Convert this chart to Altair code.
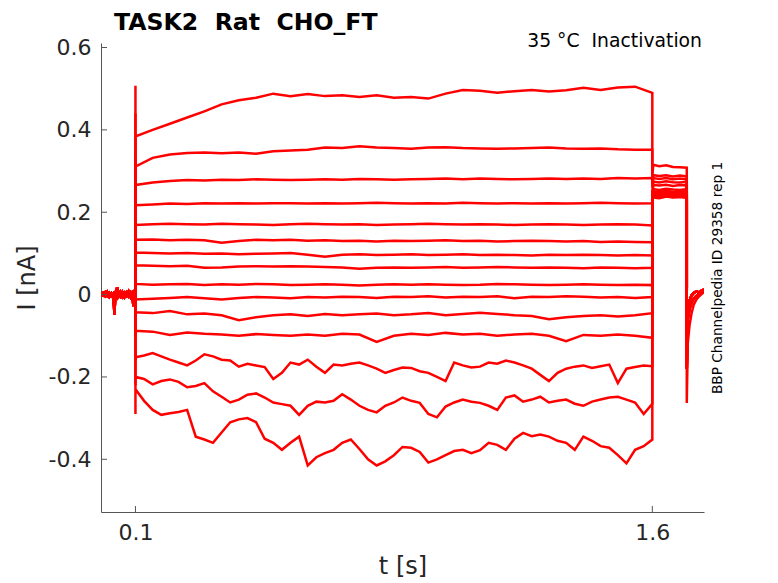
import altair as alt
import pandas as pd

# ---------------- data ----------------
X_TICKS = [0.1, 1.6]
Y_TICKS = [-0.4, -0.2, 0.0, 0.2, 0.4, 0.6]

# holding period before the step (two overlapping noise variants)
PRE_T = [0.000, 0.006, 0.012, 0.018, 0.024, 0.030, 0.036, 0.039, 0.041, 0.044, 0.047,
         0.050, 0.056, 0.062, 0.068, 0.074, 0.080, 0.086, 0.091, 0.094, 0.097, 0.100]
PRE_I_A = [0.003, -0.002, 0.005, -0.003, 0.004, -0.004, 0.002, -0.048, -0.010, 0.003, 0.018,
           -0.004, 0.006, -0.005, 0.004, -0.003, 0.007, -0.006, 0.002, -0.028, -0.004, 0.000]
PRE_I_B = [-0.004, 0.004, -0.003, 0.006, -0.005, 0.003, -0.006, -0.030, 0.004, -0.006, 0.008,
           0.005, -0.004, 0.006, -0.006, 0.005, -0.004, 0.004, -0.008, -0.012, 0.003, 0.000]

# capacitive spike at step onset (per trace)
SPIKE_ON = [0.507, 0.44, 0.38, 0.33, 0.28, 0.24, 0.20, 0.16, 0.12, 0.06,
            -0.04, -0.10, -0.16, -0.22, -0.29]

# step period, traces 1-12 sampled every 0.05 s
T_COARSE = [0.10, 0.15, 0.20, 0.25, 0.30, 0.35, 0.40, 0.45, 0.50, 0.55, 0.60, 0.65, 0.70,
            0.75, 0.80, 0.85, 0.90, 0.95, 1.00, 1.05, 1.10, 1.15, 1.20, 1.25, 1.30, 1.35,
            1.40, 1.45, 1.50, 1.55, 1.60]
STEP_1 = [0.384, 0.400, 0.415, 0.430, 0.445, 0.462, 0.472, 0.478, 0.488, 0.482, 0.487,
          0.482, 0.484, 0.480, 0.484, 0.478, 0.480, 0.476, 0.488, 0.497, 0.495, 0.490,
          0.494, 0.497, 0.493, 0.496, 0.502, 0.497, 0.503, 0.505, 0.490]
STEP_2 = [0.311, 0.332, 0.340, 0.344, 0.345, 0.343, 0.345, 0.342, 0.348, 0.350, 0.352,
          0.357, 0.356, 0.360, 0.357, 0.356, 0.354, 0.357, 0.358, 0.356, 0.355, 0.354,
          0.355, 0.356, 0.357, 0.355, 0.354, 0.355, 0.353, 0.352, 0.352]
STEP_3 = [0.266, 0.272, 0.276, 0.278, 0.277, 0.279, 0.278, 0.280, 0.279, 0.278, 0.279,
          0.280, 0.279, 0.281, 0.280, 0.279, 0.280, 0.281, 0.282, 0.280, 0.282, 0.281,
          0.280, 0.281, 0.282, 0.281, 0.282, 0.281, 0.283, 0.282, 0.283]
STEP_4 = [0.217, 0.219, 0.221, 0.220, 0.222, 0.221, 0.222, 0.221, 0.222, 0.222, 0.221,
          0.222, 0.221, 0.222, 0.223, 0.222, 0.221, 0.222, 0.221, 0.223, 0.222, 0.221,
          0.222, 0.221, 0.222, 0.221, 0.222, 0.223, 0.222, 0.221, 0.222]
STEP_5 = [0.169, 0.171, 0.172, 0.171, 0.170, 0.172, 0.171, 0.170, 0.169, 0.171, 0.172,
          0.171, 0.170, 0.171, 0.169, 0.170, 0.171, 0.172, 0.171, 0.170, 0.171, 0.170,
          0.169, 0.170, 0.171, 0.170, 0.169, 0.170, 0.171, 0.170, 0.168]
STEP_6 = [0.133, 0.134, 0.132, 0.133, 0.132, 0.126, 0.130, 0.133, 0.132, 0.133, 0.131,
          0.132, 0.130, 0.131, 0.129, 0.131, 0.130, 0.131, 0.132, 0.130, 0.131, 0.129,
          0.130, 0.131, 0.130, 0.129, 0.130, 0.128, 0.129, 0.128, 0.127]
STEP_7 = [0.102, 0.101, 0.100, 0.101, 0.099, 0.100, 0.098, 0.099, 0.100, 0.101, 0.097,
          0.092, 0.097, 0.098, 0.096, 0.097, 0.098, 0.096, 0.097, 0.098, 0.096, 0.097,
          0.096, 0.095, 0.097, 0.096, 0.097, 0.096, 0.095, 0.096, 0.095]
STEP_8 = [0.071, 0.070, 0.069, 0.070, 0.065, 0.066, 0.068, 0.069, 0.068, 0.069, 0.068,
          0.067, 0.066, 0.063, 0.065, 0.066, 0.065, 0.066, 0.067, 0.065, 0.066, 0.067,
          0.066, 0.065, 0.066, 0.065, 0.064, 0.066, 0.065, 0.064, 0.065]
STEP_9 = [0.026, 0.024, 0.025, 0.026, 0.023, 0.025, 0.024, 0.026, 0.025, 0.023, 0.024,
          0.025, 0.024, 0.022, 0.024, 0.025, 0.024, 0.025, 0.024, 0.023, 0.024, 0.026,
          0.025, 0.024, 0.023, 0.024, 0.025, 0.024, 0.023, 0.024, 0.023]
STEP_10 = [-0.012, -0.010, -0.008, -0.006, -0.009, -0.012, -0.008, -0.006, -0.007, -0.009,
           -0.006, -0.007, -0.005, -0.006, -0.008, -0.005, -0.006, -0.004, -0.007, -0.005,
           -0.006, -0.004, -0.009, -0.005, -0.006, -0.004, -0.005, -0.007, -0.006, -0.008,
           -0.006]
STEP_11 = [-0.043, -0.045, -0.040, -0.048, -0.046, -0.050, -0.062, -0.055, -0.050, -0.048,
           -0.052, -0.047, -0.050, -0.048, -0.046, -0.050, -0.048, -0.045, -0.050, -0.047,
           -0.044, -0.047, -0.050, -0.052, -0.060, -0.055, -0.052, -0.050, -0.053, -0.050,
           -0.045]
STEP_12 = [-0.088, -0.090, -0.098, -0.092, -0.095, -0.097, -0.100, -0.096, -0.098, -0.100,
           -0.097, -0.100, -0.095, -0.097, -0.115, -0.100, -0.095, -0.098, -0.093, -0.097,
           -0.095, -0.100, -0.097, -0.095, -0.100, -0.113, -0.098, -0.100, -0.097, -0.100,
           -0.105]

# step period, noisy traces 13-15 sampled every 0.025 s
T_FINE = [0.100, 0.125, 0.150, 0.175, 0.200, 0.225, 0.250, 0.275, 0.300, 0.325, 0.350,
          0.375, 0.400, 0.425, 0.450, 0.475, 0.500, 0.525, 0.550, 0.575, 0.600, 0.625,
          0.650, 0.675, 0.700, 0.725, 0.750, 0.775, 0.800, 0.825, 0.850, 0.875, 0.900,
          0.925, 0.950, 0.975, 1.000, 1.025, 1.050, 1.075, 1.100, 1.125, 1.150, 1.175,
          1.200, 1.225, 1.250, 1.275, 1.300, 1.325, 1.350, 1.375, 1.400, 1.425, 1.450,
          1.475, 1.500, 1.525, 1.550, 1.575, 1.600]
STEP_13 = [-0.152, -0.148, -0.142, -0.150, -0.158, -0.165, -0.172, -0.160, -0.145, -0.150,
           -0.158, -0.160, -0.175, -0.168, -0.172, -0.176, -0.205, -0.190, -0.165, -0.170,
           -0.158, -0.175, -0.190, -0.170, -0.172, -0.168, -0.165, -0.172, -0.180, -0.190,
           -0.183, -0.177, -0.178, -0.186, -0.190, -0.200, -0.210, -0.165, -0.172, -0.177,
           -0.175, -0.165, -0.168, -0.160, -0.165, -0.172, -0.180, -0.195, -0.210, -0.190,
           -0.180, -0.175, -0.172, -0.178, -0.174, -0.170, -0.215, -0.180, -0.176, -0.172,
           -0.174]
STEP_14 = [-0.200, -0.205, -0.218, -0.210, -0.206, -0.212, -0.225, -0.222, -0.215, -0.235,
           -0.248, -0.262, -0.255, -0.243, -0.240, -0.250, -0.262, -0.266, -0.270, -0.292,
           -0.270, -0.260, -0.262, -0.258, -0.242, -0.255, -0.270, -0.280, -0.286, -0.270,
           -0.262, -0.250, -0.258, -0.263, -0.290, -0.298, -0.272, -0.262, -0.255, -0.260,
           -0.263, -0.270, -0.280, -0.250, -0.245, -0.260, -0.255, -0.248, -0.262, -0.258,
           -0.255, -0.265, -0.270, -0.260, -0.255, -0.250, -0.248, -0.255, -0.262, -0.290,
           -0.265]
STEP_15 = [-0.230, -0.258, -0.280, -0.292, -0.288, -0.285, -0.280, -0.345, -0.352, -0.360,
           -0.335, -0.310, -0.303, -0.300, -0.310, -0.350, -0.360, -0.377, -0.360, -0.345,
           -0.415, -0.395, -0.385, -0.377, -0.360, -0.352, -0.375, -0.400, -0.415, -0.405,
           -0.390, -0.370, -0.372, -0.382, -0.408, -0.400, -0.390, -0.380, -0.377, -0.385,
           -0.378, -0.360, -0.365, -0.377, -0.350, -0.336, -0.344, -0.340, -0.345, -0.355,
           -0.360, -0.377, -0.345, -0.355, -0.368, -0.372, -0.390, -0.410, -0.377, -0.368,
           -0.352]

# test pulse (tail) 1.6 - 1.7 s
TAIL_T = [1.600, 1.603, 1.620, 1.640, 1.660, 1.680, 1.700]
TAIL_I = [
    [0.290, 0.315, 0.312, 0.314, 0.310, 0.309, 0.308],
    [0.270, 0.290, 0.288, 0.290, 0.287, 0.289, 0.287],
    [0.260, 0.283, 0.281, 0.283, 0.280, 0.282, 0.280],
    [0.250, 0.274, 0.272, 0.275, 0.273, 0.272, 0.274],
    [0.240, 0.266, 0.265, 0.267, 0.264, 0.266, 0.265],
    [0.230, 0.256, 0.254, 0.257, 0.255, 0.254, 0.256],
    [0.225, 0.250, 0.249, 0.252, 0.250, 0.249, 0.251],
    [0.220, 0.247, 0.245, 0.248, 0.246, 0.247, 0.245],
    [0.222, 0.244, 0.243, 0.246, 0.244, 0.245, 0.244],
    [0.225, 0.242, 0.240, 0.244, 0.242, 0.243, 0.241],
    [0.228, 0.240, 0.239, 0.242, 0.240, 0.241, 0.240],
    [0.230, 0.239, 0.237, 0.241, 0.239, 0.240, 0.238],
    [0.232, 0.238, 0.236, 0.240, 0.238, 0.239, 0.237],
    [0.234, 0.237, 0.235, 0.239, 0.237, 0.238, 0.236],
    [0.236, 0.236, 0.234, 0.238, 0.236, 0.237, 0.235],
]

# return to holding after 1.7 s (three shapes)
POST_T = [1.700, 1.703, 1.708, 1.714, 1.720, 1.728, 1.736, 1.744, 1.750]
POST_SHAPES = [
    [-0.263, -0.118, -0.075, -0.045, -0.025, -0.012, -0.004, 0.002, 0.006],
    [-0.180, -0.060, -0.035, -0.020, -0.010, -0.003, 0.002, 0.006, 0.008],
    [-0.100, -0.040, -0.015, -0.002, 0.004, 0.008, 0.005, 0.010, 0.012],
]
POST_KIND = [0, 1, 2, 1, 2, 2, 1, 2, 2, 1, 2, 2, 2, 1, 2]

STEPS = [STEP_1, STEP_2, STEP_3, STEP_4, STEP_5, STEP_6, STEP_7, STEP_8, STEP_9,
         STEP_10, STEP_11, STEP_12, STEP_13, STEP_14, STEP_15]

# ---------------- build the long table ----------------
rows = []
for k in range(15):
    pre = PRE_I_A if k % 2 == 0 else PRE_I_B
    seq = list(zip(PRE_T, pre))
    seq.append((0.100, SPIKE_ON[k]))
    tgrid = T_COARSE if k < 12 else T_FINE
    seq += list(zip(tgrid, STEPS[k]))
    seq += list(zip(TAIL_T, TAIL_I[k]))
    seq += list(zip(POST_T, POST_SHAPES[POST_KIND[k]]))
    for i, (t, v) in enumerate(seq):
        rows.append({"trace": k, "order": i, "t": t, "I": v})
df = pd.DataFrame(rows)

W, H = 603, 469
XDOM = [0.0, 1.75]
YDOM = [-0.528, 0.611]
FONT = "DejaVu Sans"
AXC = "#262626"
LINEC = "#555555"

xscale = alt.Scale(domain=XDOM, nice=False, zero=False)
yscale = alt.Scale(domain=YDOM, nice=False, zero=False)
xaxis = alt.Axis(values=X_TICKS, format=".1f", title=None, ticks=False, grid=False,
                 labelFont=FONT, labelFontSize=22, labelColor=AXC, labelPadding=10,
                 domainColor=LINEC, domainWidth=1)
yaxis = alt.Axis(values=Y_TICKS, labelExpr="'' + datum.value", title=None, ticks=False,
                 grid=False, labelFont=FONT, labelFontSize=22, labelColor=AXC,
                 labelPadding=10, domainColor=LINEC, domainWidth=1)

traces = alt.Chart(df).mark_line(color="#ff0000", strokeWidth=2.5, clip=True).encode(
    x=alt.X("t:Q", scale=xscale, axis=xaxis),
    y=alt.Y("I:Q", scale=yscale, axis=yaxis),
    detail="trace:N",
    order="order:Q",
)

ytick_df = pd.DataFrame({"t": [0.0] * len(Y_TICKS), "I": Y_TICKS})
xtick_df = pd.DataFrame({"t": X_TICKS, "I": [0.0] * len(X_TICKS)})
yticks = alt.Chart(ytick_df).mark_rule(color=LINEC, strokeWidth=1).encode(
    y=alt.Y("I:Q", scale=yscale, axis=yaxis), x=alt.value(0), x2=alt.value(6))
xticks = alt.Chart(xtick_df).mark_rule(color=LINEC, strokeWidth=1).encode(
    x=alt.X("t:Q", scale=xscale, axis=xaxis), y=alt.value(H), y2=alt.value(H - 6))

one = pd.DataFrame({"a": [0]})


def label(txt, x, y, size, align="left", angle=0, weight="normal", color=AXC):
    return alt.Chart(one).mark_text(
        text=txt, font=FONT, fontSize=size, fontWeight=weight, align=align,
        baseline="alphabetic", angle=angle, color=color,
    ).encode(x=alt.value(x), y=alt.value(y))


NB = "\u00a0"
title = label("TASK2 " + NB + "Rat " + NB + "CHO_FT", 13, -13, 23.6, weight="bold",
              color="#000000")
cond = label("35 °C " + NB + "Inactivation", 601, 4, 18.8, align="right", color="#000000")
side = label("BBP Channelpedia ID 29358 rep 1", 621, 235, 13.7, align="center", angle=270,
             color="#000000")
ylab = label("I [nA]", -66, 235, 24, align="center", angle=270)
xlab = label("t [s]", 302, 531, 24, align="center")

chart = alt.layer(traces, yticks, xticks, title, cond, side, ylab, xlab).properties(
    width=W, height=H,
    autosize=alt.AutoSizeParams(type="none"),
    padding={"left": 93, "top": 35, "right": 66, "bottom": 71},
    background="white",
).configure_view(stroke=None)

chart.save("out.html", embed_options={"renderer": "svg", "actions": False})
